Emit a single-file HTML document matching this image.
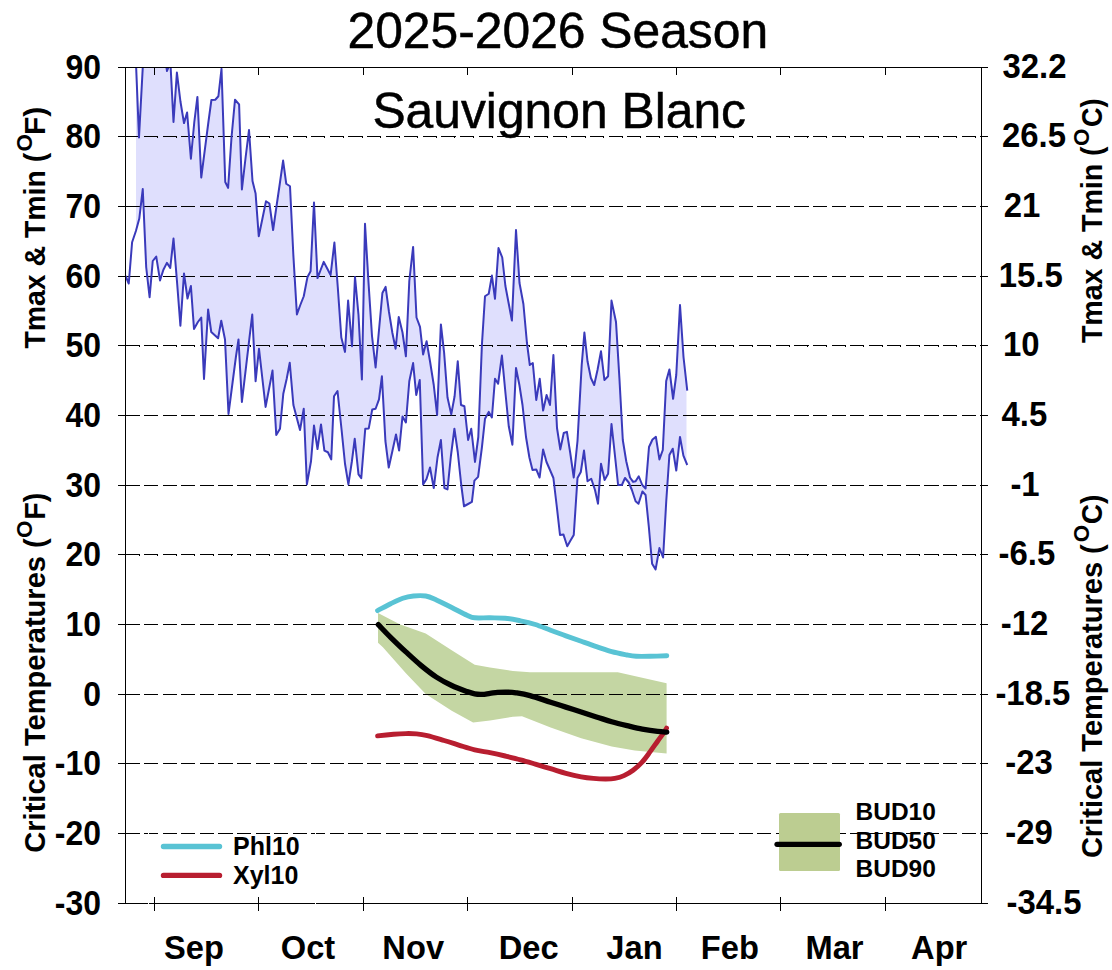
<!DOCTYPE html><html><head><meta charset="utf-8"><title>2025-2026 Season</title>
<style>html,body{margin:0;padding:0;background:#fff;}body{width:1112px;height:970px;overflow:hidden;font-family:"Liberation Sans",sans-serif;}svg{display:block;}text{font-family:"Liberation Sans",sans-serif;fill:#000;}.b{font-weight:bold;}</style></head><body>
<svg width="1112" height="970" viewBox="0 0 1112 970">
<rect x="0" y="0" width="1112" height="970" fill="#fff"/>
<clipPath id="cp"><rect x="125.5" y="67.5" width="856.0" height="836.0"/></clipPath>
<g clip-path="url(#cp)"><polygon points="136,40 139,137.5 143,63 146.5,52 163.5,48 167,71 170.4,62.5 173.5,121.9 176.9,72.5 180.4,101.25 184,123.1 187.1,112.5 190.9,158.75 194.25,122.5 197.4,96.9 201.25,177.5 204.75,150.4 208.25,123.25 211.4,100 215.25,99.75 218.4,96.25 221.5,68.75 225.25,182 228.1,187.9 231.5,137.5 235,99.75 239.1,104.4 241.9,189.5 245.6,157.5 249,130 252.5,181 255.6,193.6 258.75,236.25 262.4,218.75 266,201.25 269.4,203.5 273.1,230 276.4,207 279.75,184 283.1,160.6 286.25,183.75 290,186.25 293.4,256 296.9,314.4 300.3,305 303.75,296.25 307.5,276.9 310.6,271.25 314,202.5 317.5,278.1 320.6,270 323.75,261.9 327.2,268.5 330.6,275 334.4,242.5 337.8,287.5 341.3,337.5 345,351.9 348.1,300.6 352,346.25 355,276.9 358.5,315 361.9,379.4 365,223.75 368.5,282.5 372,336 375.6,367.5 379,330 382.4,293 385.6,286.9 389,312 392.4,333 395.6,348.75 398.75,316.9 402.5,332.5 405.9,356.25 409.3,281 413.1,246.9 416.5,317.5 420,326.9 423.1,354.4 426.6,341.25 430,361.25 433.75,385 437.1,415 440.9,324.4 444.1,352.5 447.5,397.5 451.25,414.4 454.6,396.25 457.75,361.25 461,405 464.4,406.25 468.1,440 471.25,428.75 475,461.9 478.3,437 481.9,345 485,296.25 488.75,293.75 491.9,275.6 495,298.75 498.5,248.1 502.25,257.5 505.4,286 508.8,304 511.9,320.6 516,230 519.5,283 523.4,304 526.9,342.5 529.8,365 532.8,363 536.25,400 539.75,378.75 543.1,410.6 546.6,395 550,405 553.4,355 557,428 560.3,449.4 563.75,433 566.9,431.9 570.25,453 573.75,477.5 577.5,441 581.7,365 584.4,332.5 587.5,361.25 590.9,378 594.2,385 597.5,370 601,351.25 604.4,380 608.1,376.25 611.5,300.6 616,322 619.4,378 622.8,440 626.25,461.25 630,477.5 633.1,481.9 635.6,481.25 638.75,476.25 642.25,485 645.6,488.5 649,447 652.5,439.5 655.9,436.9 659.4,459.4 662.8,450 666.2,381 669.4,369.4 673.1,398.75 676.25,375 680,305 683.5,357 687.25,390.6 686.5,390.6 686.5,465 687.25,465 683.4,455.6 680,436.9 676.25,470.6 672.75,448.75 669.4,455 666.25,501.25 663.1,557.5 659.4,548.1 655.6,569.4 652.1,563.75 648.75,526 645.6,495 642.4,491.5 638.5,503.75 635.6,501.25 631.9,490 628.75,482.5 625,478 621.9,485 618.1,485 615,456 611.5,424 608.1,473.75 604.6,480 601,463.75 598,503.75 595,490 591.25,478.75 587.5,481.25 584,450.6 580.8,472 577.5,478 573.75,535 570.5,540.6 567.25,546.25 563.4,534.4 560,535 556.9,507.5 553.4,478 550,470 546.5,462 543.1,449.4 539.6,477.5 536.25,469.4 532.5,470 529.4,457.5 526,437 522.5,405 519.4,385 516,368 512.4,444.7 508.75,426.25 505.4,392.5 501.9,355.6 498.1,383.75 495,378.75 491.9,417.5 488.75,411.9 485,418.75 481.9,447.5 478.1,476.9 474.4,480.6 471.9,501.9 468.1,504 464,506.25 461.25,485 457.75,452 454.4,428.75 450.9,456 447.5,489.4 444.4,488.1 440.9,440 437.5,457.5 433.75,488.1 430,467.5 426.5,479 423.1,484.4 419.75,380 416.25,395 413.1,363.1 409.3,381.25 405.9,422.5 402.5,416.5 399.1,450.6 396,434.4 392.4,451 388.75,467.5 385.4,441 381.9,376.25 379,399.4 375.6,408.75 372.25,409.4 368.75,428.4 365.25,428.75 361.25,478.1 358.5,474.4 354.75,438.75 351.9,461.25 348.4,484.4 345,463.75 341.6,430 337.5,391 334,396.25 331.25,459.4 327.9,452.25 324.4,450.6 321,424.5 317.5,449 314,425.6 311,461.25 306.9,484.4 303.75,408.75 300,430 297,418.75 293.4,405 289.75,362.75 286.7,378.75 283.3,393.75 280,428.75 276.25,435 272.5,370.6 269,389 265.6,406.9 262.3,378 259,348.75 255.6,381.25 252.25,314.5 249.6,336.6 246.25,365.1 241.9,402 238.5,339.5 235.9,357 232.5,383 228.5,413.9 225,339.5 221.25,320.75 218.1,338.25 215.1,335.5 211.25,332 208.1,309.5 204,378.9 201.25,317.6 197.9,322 194,328.9 190.9,286 187.5,298.5 184,273.5 180.4,325.75 177.25,284.75 173.5,238.5 170.25,267.9 166.9,262.9 163.4,269.75 160,280.4 156.25,256.6 152.75,261 149.6,297.25 146.2,267.25 142.75,189.1 139.3,218.5 136,231" fill="#dfdffd"/></g>
<polygon points="378,612.9 399.7,624.3 425.7,633.5 451.7,650.3 474.7,664.8 490,667.4 512.9,671 530,672.3 617.8,672.2 666.6,683.3 666.6,753.4 634.7,750.4 611.7,746.6 581.2,738.2 550.6,727.5 522,716.2 512.9,716.8 490,720.6 473.1,722.5 451.7,710.7 425.7,693.9 405.9,673.3 382.9,647.3 378,642.7" fill="#c4d6a3"/>
<line x1="125.5" y1="833.5" x2="981.5" y2="833.5" stroke="#000" stroke-width="1" stroke-dasharray="14.15 4.43" shape-rendering="crispEdges"/>
<line x1="125.5" y1="763.5" x2="981.5" y2="763.5" stroke="#000" stroke-width="1" stroke-dasharray="14.15 4.43" shape-rendering="crispEdges"/>
<line x1="125.5" y1="694.5" x2="981.5" y2="694.5" stroke="#000" stroke-width="1" stroke-dasharray="14.15 4.43" shape-rendering="crispEdges"/>
<line x1="125.5" y1="624.5" x2="981.5" y2="624.5" stroke="#000" stroke-width="1" stroke-dasharray="14.15 4.43" shape-rendering="crispEdges"/>
<line x1="125.5" y1="554.5" x2="981.5" y2="554.5" stroke="#000" stroke-width="1" stroke-dasharray="14.15 4.43" shape-rendering="crispEdges"/>
<line x1="125.5" y1="485.5" x2="981.5" y2="485.5" stroke="#000" stroke-width="1" stroke-dasharray="14.15 4.43" shape-rendering="crispEdges"/>
<line x1="125.5" y1="415.5" x2="981.5" y2="415.5" stroke="#000" stroke-width="1" stroke-dasharray="14.15 4.43" shape-rendering="crispEdges"/>
<line x1="125.5" y1="345.5" x2="981.5" y2="345.5" stroke="#000" stroke-width="1" stroke-dasharray="14.15 4.43" shape-rendering="crispEdges"/>
<line x1="125.5" y1="276.5" x2="981.5" y2="276.5" stroke="#000" stroke-width="1" stroke-dasharray="14.15 4.43" shape-rendering="crispEdges"/>
<line x1="125.5" y1="206.5" x2="981.5" y2="206.5" stroke="#000" stroke-width="1" stroke-dasharray="14.15 4.43" shape-rendering="crispEdges"/>
<line x1="125.5" y1="136.5" x2="981.5" y2="136.5" stroke="#000" stroke-width="1" stroke-dasharray="14.15 4.43" shape-rendering="crispEdges"/>
<line x1="125.5" y1="137.5" x2="981.5" y2="137.5" stroke="#000" stroke-width="1" stroke-dasharray="1 17.58" stroke-dashoffset="5.5" shape-rendering="crispEdges"/>
<line x1="125.5" y1="346.5" x2="981.5" y2="346.5" stroke="#000" stroke-width="1" stroke-dasharray="1 17.58" stroke-dashoffset="5.5" shape-rendering="crispEdges"/>
<line x1="125.5" y1="555.5" x2="981.5" y2="555.5" stroke="#000" stroke-width="1" stroke-dasharray="1 17.58" stroke-dashoffset="5.5" shape-rendering="crispEdges"/>
<g clip-path="url(#cp)"><polyline points="136,63.75 139,137.5 143,63 146.5,52 163.5,48 167,71 170.4,62.5 173.5,121.9 176.9,72.5 180.4,101.25 184,123.1 187.1,112.5 190.9,158.75 194.25,122.5 197.4,96.9 201.25,177.5 204.75,150.4 208.25,123.25 211.4,100 215.25,99.75 218.4,96.25 221.5,68.75 225.25,182 228.1,187.9 231.5,137.5 235,99.75 239.1,104.4 241.9,189.5 245.6,157.5 249,130 252.5,181 255.6,193.6 258.75,236.25 262.4,218.75 266,201.25 269.4,203.5 273.1,230 276.4,207 279.75,184 283.1,160.6 286.25,183.75 290,186.25 293.4,256 296.9,314.4 300.3,305 303.75,296.25 307.5,276.9 310.6,271.25 314,202.5 317.5,278.1 320.6,270 323.75,261.9 327.2,268.5 330.6,275 334.4,242.5 337.8,287.5 341.3,337.5 345,351.9 348.1,300.6 352,346.25 355,276.9 358.5,315 361.9,379.4 365,223.75 368.5,282.5 372,336 375.6,367.5 379,330 382.4,293 385.6,286.9 389,312 392.4,333 395.6,348.75 398.75,316.9 402.5,332.5 405.9,356.25 409.3,281 413.1,246.9 416.5,317.5 420,326.9 423.1,354.4 426.6,341.25 430,361.25 433.75,385 437.1,415 440.9,324.4 444.1,352.5 447.5,397.5 451.25,414.4 454.6,396.25 457.75,361.25 461,405 464.4,406.25 468.1,440 471.25,428.75 475,461.9 478.3,437 481.9,345 485,296.25 488.75,293.75 491.9,275.6 495,298.75 498.5,248.1 502.25,257.5 505.4,286 508.8,304 511.9,320.6 516,230 519.5,283 523.4,304 526.9,342.5 529.8,365 532.8,363 536.25,400 539.75,378.75 543.1,410.6 546.6,395 550,405 553.4,355 557,428 560.3,449.4 563.75,433 566.9,431.9 570.25,453 573.75,477.5 577.5,441 581.7,365 584.4,332.5 587.5,361.25 590.9,378 594.2,385 597.5,370 601,351.25 604.4,380 608.1,376.25 611.5,300.6 616,322 619.4,378 622.8,440 626.25,461.25 630,477.5 633.1,481.9 635.6,481.25 638.75,476.25 642.25,485 645.6,488.5 649,447 652.5,439.5 655.9,436.9 659.4,459.4 662.8,450 666.2,381 669.4,369.4 673.1,398.75 676.25,375 680,305 683.5,357 687.25,390.6" fill="none" stroke="#3a3abb" stroke-width="2" stroke-linejoin="round"/></g>
<g clip-path="url(#cp)"><polyline points="125.6,276 128.75,283.5 132.1,242.25 135.9,231 139.3,218.5 142.75,189.1 146.2,267.25 149.6,297.25 152.75,261 156.25,256.6 160,280.4 163.4,269.75 166.9,262.9 170.25,267.9 173.5,238.5 177.25,284.75 180.4,325.75 184,273.5 187.5,298.5 190.9,286 194,328.9 197.9,322 201.25,317.6 204,378.9 208.1,309.5 211.25,332 215.1,335.5 218.1,338.25 221.25,320.75 225,339.5 228.5,413.9 232.5,383 235.9,357 238.5,339.5 241.9,402 246.25,365.1 249.6,336.6 252.25,314.5 255.6,381.25 259,348.75 262.3,378 265.6,406.9 269,389 272.5,370.6 276.25,435 280,428.75 283.3,393.75 286.7,378.75 289.75,362.75 293.4,405 297,418.75 300,430 303.75,408.75 306.9,484.4 311,461.25 314,425.6 317.5,449 321,424.5 324.4,450.6 327.9,452.25 331.25,459.4 334,396.25 337.5,391 341.6,430 345,463.75 348.4,484.4 351.9,461.25 354.75,438.75 358.5,474.4 361.25,478.1 365.25,428.75 368.75,428.4 372.25,409.4 375.6,408.75 379,399.4 381.9,376.25 385.4,441 388.75,467.5 392.4,451 396,434.4 399.1,450.6 402.5,416.5 405.9,422.5 409.3,381.25 413.1,363.1 416.25,395 419.75,380 423.1,484.4 426.5,479 430,467.5 433.75,488.1 437.5,457.5 440.9,440 444.4,488.1 447.5,489.4 450.9,456 454.4,428.75 457.75,452 461.25,485 464,506.25 468.1,504 471.9,501.9 474.4,480.6 478.1,476.9 481.9,447.5 485,418.75 488.75,411.9 491.9,417.5 495,378.75 498.1,383.75 501.9,355.6 505.4,392.5 508.75,426.25 512.4,444.7 516,368 519.4,385 522.5,405 526,437 529.4,457.5 532.5,470 536.25,469.4 539.6,477.5 543.1,449.4 546.5,462 550,470 553.4,478 556.9,507.5 560,535 563.4,534.4 567.25,546.25 570.5,540.6 573.75,535 577.5,478 580.8,472 584,450.6 587.5,481.25 591.25,478.75 595,490 598,503.75 601,463.75 604.6,480 608.1,473.75 611.5,424 615,456 618.1,485 621.9,485 625,478 628.75,482.5 631.9,490 635.6,501.25 638.5,503.75 642.4,491.5 645.6,495 648.75,526 652.1,563.75 655.6,569.4 659.4,548.1 663.1,557.5 666.25,501.25 669.4,455 672.75,448.75 676.25,470.6 680,436.9 683.4,455.6 687.25,465" fill="none" stroke="#3a3abb" stroke-width="2" stroke-linejoin="round"/></g>
<path d="M377.6,610.6 C379.8,609.5 386.4,605.8 390.6,603.7 C394.8,601.7 399.0,599.6 402.8,598.3 C406.6,597.0 409.7,596.4 413.5,596 C417.3,595.6 421.9,595.4 425.7,596 C429.5,596.6 432.1,598.0 436.4,599.9 C440.7,601.8 446.6,605.0 451.7,607.5 C456.8,610.0 463.2,613.5 467,615.2 C470.8,616.9 470.9,617.4 474.7,617.8 C478.5,618.2 484.9,617.7 490,617.8 C495.1,617.9 500.1,617.7 505.2,618.2 C510.3,618.7 515.5,619.8 520.5,620.8 C525.5,621.8 530.3,622.9 535.3,624.5 C540.3,626.1 545.5,628.4 550.6,630.3 C555.7,632.2 560.8,634.1 565.9,635.9 C571.0,637.7 576.1,639.5 581.2,641.3 C586.3,643.1 591.3,644.9 596.4,646.6 C601.5,648.3 606.6,650.3 611.7,651.7 C616.8,653.1 622.9,654.2 627,655 C631.1,655.8 632.4,656.1 636.2,656.3 C640.0,656.5 644.9,656.4 650,656.3 C655.1,656.2 664.0,655.9 666.8,655.8" fill="none" stroke="#59c3d4" stroke-width="4.9" stroke-linecap="round" stroke-linejoin="round"/>
<path d="M377.6,735.9 C380.3,735.6 388.9,734.7 393.6,734.3 C398.3,733.9 402.1,733.7 405.9,733.6 C409.7,733.5 413.0,733.6 416.6,733.9 C420.2,734.2 422.7,734.5 427.3,735.6 C431.9,736.7 438.8,738.9 444.1,740.5 C449.5,742.1 454.3,743.7 459.4,745.3 C464.5,746.9 469.6,748.7 474.7,749.9 C479.8,751.1 484.9,751.7 490,752.7 C495.1,753.7 500.1,754.8 505.2,756 C510.3,757.2 515.5,758.4 520.5,759.8 C525.5,761.1 530.3,762.6 535.3,764.1 C540.3,765.6 545.5,767.2 550.6,768.7 C555.7,770.2 560.8,771.9 565.9,773.3 C571.0,774.6 576.6,775.9 581.2,776.8 C585.8,777.6 589.3,778.0 593.4,778.4 C597.5,778.8 602.0,779.0 605.6,779 C609.2,779.0 611.7,779.0 614.8,778.4 C617.9,777.8 621.0,777.0 624,775.6 C627.0,774.2 630.1,772.6 633.1,770.3 C636.1,768.0 639.5,765.0 642.3,761.9 C645.1,758.8 647.5,755.3 650,751.9 C652.5,748.5 655.3,744.4 657.6,741.2 C659.9,738.0 662.2,735.0 663.7,732.8 C665.2,730.6 666.0,729.0 666.5,728.2" fill="none" stroke="#b81e30" stroke-width="4.9" stroke-linecap="round" stroke-linejoin="round"/>
<path d="M378.3,624.6 C380.4,626.7 386.0,632.8 390.6,637.3 C395.2,641.8 400.8,647.2 405.9,651.9 C411.0,656.6 416.1,661.4 421.2,665.6 C426.3,669.8 431.3,673.8 436.4,677.1 C441.5,680.4 446.6,683.1 451.7,685.5 C456.8,687.9 463.2,690.2 467,691.6 C470.8,693.0 472.1,693.4 474.7,693.9 C477.2,694.4 479.8,694.5 482.3,694.4 C484.9,694.3 487.4,693.7 490,693.4 C492.6,693.1 494.8,692.6 497.6,692.4 C500.4,692.2 503.7,692.0 506.8,692.1 C509.9,692.2 512.1,692.2 516,692.8 C519.9,693.4 524.2,694.0 530,695.6 C535.8,697.2 544.6,700.3 550.6,702.2 C556.6,704.1 560.8,705.5 565.9,707.1 C571.0,708.7 576.1,710.4 581.2,712.0 C586.3,713.6 591.3,715.3 596.4,716.9 C601.5,718.5 606.6,720.3 611.7,721.8 C616.8,723.3 621.9,724.5 627,725.7 C632.1,726.9 637.2,728.2 642.3,729.1 C647.4,730.0 653.5,730.9 657.6,731.4 C661.7,731.9 665.3,732.0 666.8,732.1" fill="none" stroke="#000" stroke-width="5.3" stroke-linecap="round" stroke-linejoin="round"/>
<g stroke="#000" stroke-width="1" shape-rendering="crispEdges">
<line x1="125.5" y1="67.5" x2="125.5" y2="903.5"/><line x1="981.5" y1="67.5" x2="981.5" y2="903.5"/>
<line x1="118.0" y1="67.5" x2="988.0" y2="67.5"/><line x1="118.0" y1="903.5" x2="988.0" y2="903.5"/>
<line x1="118.0" y1="833.5" x2="125.5" y2="833.5"/><line x1="981.5" y1="833.5" x2="988.0" y2="833.5"/>
<line x1="118.0" y1="763.5" x2="125.5" y2="763.5"/><line x1="981.5" y1="763.5" x2="988.0" y2="763.5"/>
<line x1="118.0" y1="694.5" x2="125.5" y2="694.5"/><line x1="981.5" y1="694.5" x2="988.0" y2="694.5"/>
<line x1="118.0" y1="624.5" x2="125.5" y2="624.5"/><line x1="981.5" y1="624.5" x2="988.0" y2="624.5"/>
<line x1="118.0" y1="554.5" x2="125.5" y2="554.5"/><line x1="981.5" y1="554.5" x2="988.0" y2="554.5"/>
<line x1="118.0" y1="485.5" x2="125.5" y2="485.5"/><line x1="981.5" y1="485.5" x2="988.0" y2="485.5"/>
<line x1="118.0" y1="415.5" x2="125.5" y2="415.5"/><line x1="981.5" y1="415.5" x2="988.0" y2="415.5"/>
<line x1="118.0" y1="345.5" x2="125.5" y2="345.5"/><line x1="981.5" y1="345.5" x2="988.0" y2="345.5"/>
<line x1="118.0" y1="276.5" x2="125.5" y2="276.5"/><line x1="981.5" y1="276.5" x2="988.0" y2="276.5"/>
<line x1="118.0" y1="206.5" x2="125.5" y2="206.5"/><line x1="981.5" y1="206.5" x2="988.0" y2="206.5"/>
<line x1="118.0" y1="136.5" x2="125.5" y2="136.5"/><line x1="981.5" y1="136.5" x2="988.0" y2="136.5"/>
<line x1="154.5" y1="67.5" x2="154.5" y2="74.5"/><line x1="154.5" y1="896.5" x2="154.5" y2="910.5"/>
<line x1="258.5" y1="67.5" x2="258.5" y2="74.5"/><line x1="258.5" y1="896.5" x2="258.5" y2="910.5"/>
<line x1="363.5" y1="67.5" x2="363.5" y2="74.5"/><line x1="363.5" y1="896.5" x2="363.5" y2="910.5"/>
<line x1="467.5" y1="67.5" x2="467.5" y2="74.5"/><line x1="467.5" y1="896.5" x2="467.5" y2="910.5"/>
<line x1="572.5" y1="67.5" x2="572.5" y2="74.5"/><line x1="572.5" y1="896.5" x2="572.5" y2="910.5"/>
<line x1="676.5" y1="67.5" x2="676.5" y2="74.5"/><line x1="676.5" y1="896.5" x2="676.5" y2="910.5"/>
<line x1="780.5" y1="67.5" x2="780.5" y2="74.5"/><line x1="780.5" y1="896.5" x2="780.5" y2="910.5"/>
<line x1="885.5" y1="67.5" x2="885.5" y2="74.5"/><line x1="885.5" y1="896.5" x2="885.5" y2="910.5"/>
</g>
<g stroke="#fff" stroke-width="1" shape-rendering="crispEdges"><line x1="148.5" y1="833" x2="148.5" y2="904"/><line x1="315.5" y1="833" x2="315.5" y2="904"/></g>
<text transform="translate(557.8,48) scale(0.98,1)" font-size="50.8" text-anchor="middle" stroke="#000" stroke-width="0.5">2025-2026 Season</text>
<text transform="translate(559.2,128) scale(0.98,1)" font-size="50.8" text-anchor="middle" stroke="#000" stroke-width="0.5">Sauvignon Blanc</text>
<text class="b" id="L-30" transform="translate(101,915.0) scale(0.902,1)" font-size="35.4" text-anchor="end">-30</text>
<text class="b" id="L-20" transform="translate(101,845.0) scale(0.902,1)" font-size="35.4" text-anchor="end">-20</text>
<text class="b" id="L-10" transform="translate(101,775.0) scale(0.902,1)" font-size="35.4" text-anchor="end">-10</text>
<text class="b" id="L0" transform="translate(101,706.0) scale(0.902,1)" font-size="35.4" text-anchor="end">0</text>
<text class="b" id="L10" transform="translate(101,636.0) scale(0.902,1)" font-size="35.4" text-anchor="end">10</text>
<text class="b" id="L20" transform="translate(101,566.0) scale(0.902,1)" font-size="35.4" text-anchor="end">20</text>
<text class="b" id="L30" transform="translate(101,497.0) scale(0.902,1)" font-size="35.4" text-anchor="end">30</text>
<text class="b" id="L40" transform="translate(101,427.0) scale(0.902,1)" font-size="35.4" text-anchor="end">40</text>
<text class="b" id="L50" transform="translate(101,357.0) scale(0.902,1)" font-size="35.4" text-anchor="end">50</text>
<text class="b" id="L60" transform="translate(101,288.0) scale(0.902,1)" font-size="35.4" text-anchor="end">60</text>
<text class="b" id="L70" transform="translate(101,218.0) scale(0.902,1)" font-size="35.4" text-anchor="end">70</text>
<text class="b" id="L80" transform="translate(101,148.0) scale(0.902,1)" font-size="35.4" text-anchor="end">80</text>
<text class="b" id="L90" transform="translate(101,79.0) scale(0.902,1)" font-size="35.4" text-anchor="end">90</text>
<text class="b" id="R0" transform="translate(1002.40,78.0) scale(0.9300,1)" font-size="35.4">32.2</text>
<text class="b" id="R1" transform="translate(1001.90,147.0) scale(0.9300,1)" font-size="35.4">26.5</text>
<text class="b" id="R2" transform="translate(1003.80,217.0) scale(0.9300,1)" font-size="35.4">21</text>
<text class="b" id="R3" transform="translate(998.70,287.0) scale(0.9300,1)" font-size="35.4">15.5</text>
<text class="b" id="R4" transform="translate(1003.00,356.0) scale(0.9300,1)" font-size="35.4">10</text>
<text class="b" id="R5" transform="translate(1001.50,426.0) scale(0.9300,1)" font-size="35.4">4.5</text>
<text class="b" id="R6" transform="translate(1010.40,496.0) scale(0.9300,1)" font-size="35.4">-1</text>
<text class="b" id="R7" transform="translate(998.60,565.0) scale(0.9300,1)" font-size="35.4">-6.5</text>
<text class="b" id="R8" transform="translate(1000.70,635.0) scale(0.9300,1)" font-size="35.4">-12</text>
<text class="b" id="R9" transform="translate(995.40,705.0) scale(0.9300,1)" font-size="35.4">-18.5</text>
<text class="b" id="R10" transform="translate(1005.35,774.0) scale(0.9300,1)" font-size="35.4">-23</text>
<text class="b" id="R11" transform="translate(1005.35,844.0) scale(0.9300,1)" font-size="35.4">-29</text>
<text class="b" id="R12" transform="translate(1006.50,914.0) scale(0.9300,1)" font-size="35.4">-34.5</text>
<text class="b" id="M0" transform="translate(194,959) scale(0.975,1)" font-size="33.5" text-anchor="middle">Sep</text>
<text class="b" id="M1" transform="translate(308,959) scale(0.975,1)" font-size="33.5" text-anchor="middle">Oct</text>
<text class="b" id="M2" transform="translate(413.2,959) scale(0.975,1)" font-size="33.5" text-anchor="middle">Nov</text>
<text class="b" id="M3" transform="translate(528.7,959) scale(0.975,1)" font-size="33.5" text-anchor="middle">Dec</text>
<text class="b" id="M4" transform="translate(634.5,959) scale(0.975,1)" font-size="33.5" text-anchor="middle">Jan</text>
<text class="b" id="M5" transform="translate(729.9,959) scale(0.975,1)" font-size="33.5" text-anchor="middle">Feb</text>
<text class="b" id="M6" transform="translate(834.5,959) scale(0.975,1)" font-size="33.5" text-anchor="middle">Mar</text>
<text class="b" id="M7" transform="translate(939.2,959) scale(0.975,1)" font-size="33.5" text-anchor="middle">Apr</text>
<text class="b" id="a1" transform="translate(45,348.6) rotate(-90)" font-size="30" textLength="195.84" lengthAdjust="spacingAndGlyphs">Tmax &amp; Tmin (</text>
<text class="b" id="a2" transform="translate(32.3,151.5) rotate(-90)" font-size="22.5">O</text>
<text class="b" id="a3" transform="translate(45,135.03) rotate(-90)" font-size="30" textLength="28.19" lengthAdjust="spacingAndGlyphs">F)</text>
<text class="b" id="b1" transform="translate(45,852.69) rotate(-90)" font-size="30" textLength="314.44" lengthAdjust="spacingAndGlyphs">Critical Temperatures (</text>
<text class="b" id="b2" transform="translate(32.3,538) rotate(-90)" font-size="22.5">O</text>
<text class="b" id="b3" transform="translate(45,519.84) rotate(-90)" font-size="30" textLength="27.03" lengthAdjust="spacingAndGlyphs">F)</text>
<text class="b" id="c1" transform="translate(1102,343.1) rotate(-90)" font-size="30" textLength="196.74" lengthAdjust="spacingAndGlyphs">Tmax &amp; Tmin (</text>
<text class="b" id="c2" transform="translate(1088.6,146) rotate(-90)" font-size="22.5">O</text>
<text class="b" id="c3" transform="translate(1102,126.91) rotate(-90)" font-size="30" textLength="28.46" lengthAdjust="spacingAndGlyphs">C)</text>
<text class="b" id="d1" transform="translate(1102,858.08) rotate(-90)" font-size="30" textLength="313.84" lengthAdjust="spacingAndGlyphs">Critical Temperatures (</text>
<text class="b" id="d2" transform="translate(1088.6,542.3) rotate(-90)" font-size="22.5">O</text>
<text class="b" id="d3" transform="translate(1102,524.25) rotate(-90)" font-size="30" textLength="29.64" lengthAdjust="spacingAndGlyphs">C)</text>
<line x1="163.5" y1="846.5" x2="219.5" y2="846.5" stroke="#59c3d4" stroke-width="5.4" stroke-linecap="round"/>
<line x1="163.5" y1="875.4" x2="219.5" y2="875.4" stroke="#b81e30" stroke-width="5.4" stroke-linecap="round"/>
<text class="b" id="g1" x="233" y="854.7" font-size="25">Phl10</text>
<text class="b" id="g2" x="233" y="884.2" font-size="25">Xyl10</text>
<rect x="779" y="813" width="61" height="58" rx="1.5" fill="#bccd91"/>
<line x1="777" y1="844.3" x2="839.3" y2="844.3" stroke="#000" stroke-width="5.2" stroke-linecap="round"/>
<text class="b" id="h0" x="855.5" y="819.7" font-size="24.5">BUD10</text>
<text class="b" id="h1" x="855.5" y="848.5" font-size="24.5">BUD50</text>
<text class="b" id="h2" x="855.5" y="877.2" font-size="24.5">BUD90</text>
</svg></body></html>
